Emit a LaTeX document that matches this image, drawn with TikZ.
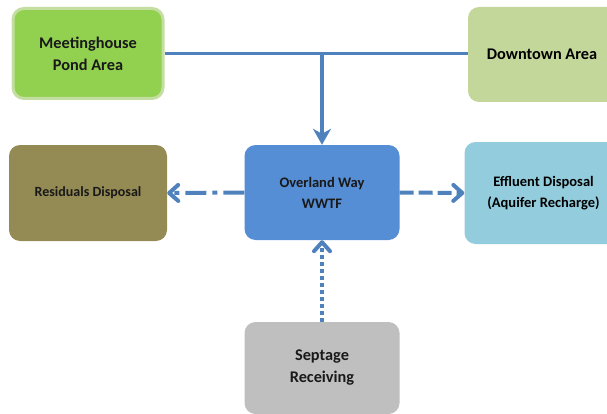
\documentclass[tikz,border=0pt]{standalone}
\usepackage{fontspec}
\setmainfont{Carlito}
\usetikzlibrary{arrows.meta}

\definecolor{meetgreen}{HTML}{92D050}
\definecolor{meetrim}{HTML}{C4DEA2}
\definecolor{downgreen}{HTML}{C4D79B}
\definecolor{wwtfblue}{HTML}{558ED5}
\definecolor{residbrown}{HTML}{948A54}
\definecolor{efflublue}{HTML}{93CDDD}
\definecolor{septgray}{HTML}{BFBFBF}
\definecolor{pipe}{HTML}{4F81BD}

\begin{document}
\begin{tikzpicture}[x=1pt,y=1pt,
  box/.style={rounded corners=11pt,inner sep=2pt,align=center,font=\bfseries,text=black!90},
  big/.style={font=\fontsize{16.3}{22}\selectfont\bfseries},
  small/.style={font=\fontsize{14.5}{21}\selectfont\bfseries},
  barb/.style={-{Straight Barb[length=9pt,width=16pt,line width=4pt,round]}},
  pipeline/.style={draw=pipe,line width=4pt}]
\useasboundingbox (0,0) rectangle (607,413);

\node[box,big,fill=meetgreen,draw=meetrim,line width=3pt,minimum width=150pt,minimum height=90pt] (meet) at (88,359.5) {Meetinghouse\\Pond Area};
\node[box,fill=downgreen,minimum width=170pt,minimum height=95pt] (down) at (553,358.5) {};
\node[big] (downtxt) at (542,358.5) {Downtown Area};
\node[box,small,fill=wwtfblue,minimum width=155pt,minimum height=95pt] (wwtf) at (322,220.5) {Overland Way\\WWTF};
\node[box,fill=residbrown,minimum width=158pt,minimum height=96pt,font=\fontsize{14}{20}\selectfont\bfseries] (resid) at (88,220) {Residuals Disposal};
\node[box,fill=efflublue,minimum width=175pt,minimum height=102pt] (efflu) at (552,220) {};
\node[small,align=center] (effltxt) at (543.5,220) {Effluent Disposal\\(Aquifer Recharge)};
\node[box,big,fill=septgray,minimum width=155pt,minimum height=92pt] (sept) at (322,45) {Septage\\Receiving};

% collection mains
\draw[pipe,line width=3.5pt] (meet.east) -- (meet.east -| down.west);
\draw[pipe,line width=3.5pt,-{Stealth[length=16pt,width=18pt,inset=5pt]}] (meet.east -| wwtf.north) -- (wwtf.north);

\path[every edge/.style={pipeline,barb}]
  (wwtf.west) edge [dash pattern=on 21pt off 6pt on 5pt off 6pt] (resid.east)
  (wwtf.east) edge [dash pattern=on 14pt off 5pt] (efflu.west)
  (sept.north) edge [dash pattern=on 4pt off 3pt] (wwtf.south);
\end{tikzpicture}
\end{document}
